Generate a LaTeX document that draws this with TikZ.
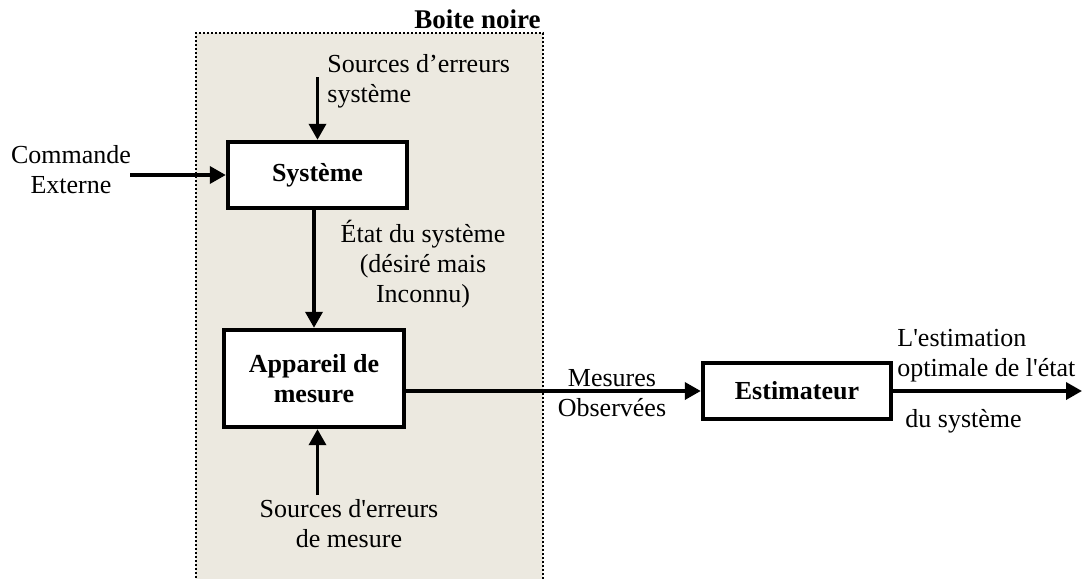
\documentclass[tikz,border=0pt]{standalone}
\usepackage{fontspec}
\setmainfont{Liberation Serif}
\usetikzlibrary{arrows.meta,calc}
\definecolor{boxfill}{RGB}{236,233,224}
\newcommand{\sq}{\textquotesingle}
\tikzset{
  blockbox/.style={draw, line width=2.2pt, fill=white, inner sep=0pt, align=center, font=\fontsize{13}{15}\selectfont\bfseries},
  flow/.style={line width=1.8pt, -{Triangle[length=8pt,width=8.5pt]}},
  lbl/.style={inner sep=0pt, font=\fontsize{13}{15}\selectfont},
}
\begin{document}
\begin{tikzpicture}[x=0.5pt,y=-0.5pt]
\useasboundingbox (0,0) rectangle (1084,579);

% black box region
\fill[boxfill] (196,33) rectangle (543,590);
\draw[line width=1.4pt, dash pattern=on 1.2pt off 0.8pt] (196,590) -- (196,33) -- (543,33) -- (543,590);
\node[lbl, anchor=base east, font=\fontsize{13.5}{15}\selectfont\bfseries] (bn) at (541,28) {Boite noire};

% blocks
\node[blockbox, minimum width=89.5pt, minimum height=33pt] (sys) at (317.5,175) {Système};
\node[blockbox, minimum width=90pt, minimum height=48.5pt] (app) at (314,378.5) {Appareil de\\mesure};
\node[blockbox, minimum width=94pt, minimum height=28pt] (est) at (797,391) {Estimateur};

% labels
\node[lbl, anchor=north west, align=left] (srcsys) at (327,54) {Sources d’erreurs\\système};
\node[lbl, anchor=north, align=center] (cmd) at (71,145) {Commande\\Externe};
\node[lbl, anchor=north, align=center] (etat) at (423,220) {État du système\\(désiré mais\\Inconnu)};
\node[lbl, anchor=north, align=center] (srcmes) at (349,499) {Sources d\sq erreurs\\de mesure};
\node[lbl, anchor=north, align=center] (mes) at (612,369) {Mesures\\Observées};
\node[lbl, anchor=north west, align=left] (opt) at (897,329) {L\sq estimation\\optimale de l\sq état};
\node[lbl, anchor=base west] (dusys) at (905,427) {du système};

% free ends of the connectors
\coordinate (intop) at (317.5,77);
\coordinate (incmd) at (130,175);
\coordinate (inmes) at (317.5,495);
\coordinate (out) at (1082,391);

% connectors
\draw[flow] (intop) -- (sys.north);
\draw[flow] (incmd) -- (sys.west);
\draw[flow] (app.north |- sys.south) -- (app.north);
\draw[flow] (inmes) -- (app.south -| inmes);
\draw[flow] (app.east |- est.west) -- (est.west);
\draw[flow] (est.east) -- (out);
\end{tikzpicture}
\end{document}
